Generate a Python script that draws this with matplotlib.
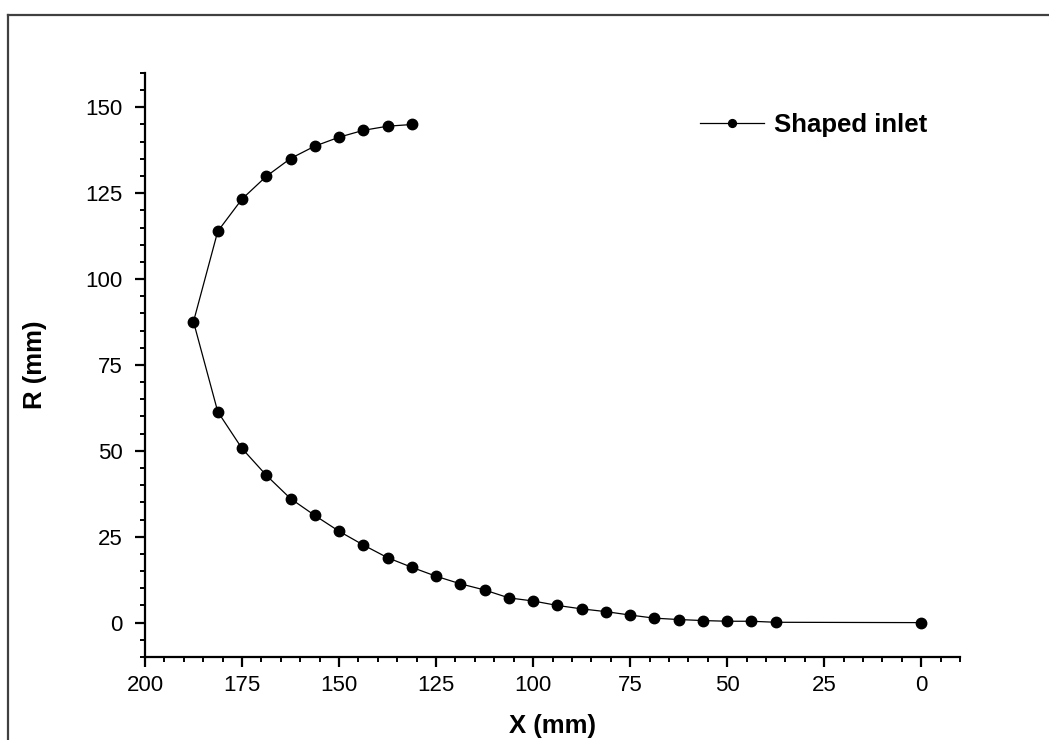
import numpy as np
import matplotlib
matplotlib.use('Agg')
import matplotlib.pyplot as plt
from matplotlib.lines import Line2D
from matplotlib.ticker import MultipleLocator

plt.rcParams['font.family'] = ['Liberation Sans', 'DejaVu Sans']

# upper branch, read from the tip (x=131.25) back to the nose
x_upper = [131.25, 137.5, 143.75, 150, 156.25, 162.5, 168.75, 175, 181.25, 187.5]
r_upper = [145.0, 144.5, 143.3, 141.3, 138.7, 135.1, 129.9, 123.3, 113.9, 87.6]
# lower branch, from the nose down to the axis
x_lower = [181.25, 175, 168.75, 162.5, 156.25, 150, 143.75, 137.5, 131.25, 125,
           118.75, 112.5, 106.25, 100, 93.75, 87.5, 81.25, 75, 68.75, 62.5,
           56.25, 50, 43.75, 37.5, 0]
r_lower = [61.4, 50.7, 42.9, 36.1, 31.2, 26.6, 22.6, 18.9, 16.1, 13.5,
           11.3, 9.5, 7.2, 6.3, 5.0, 4.0, 3.2, 2.2, 1.3, 0.9,
           0.6, 0.4, 0.4, 0.1, 0.0]

x_all = x_upper + x_lower
r_all = r_upper + r_lower

fig = plt.figure(figsize=(10.49, 7.40), dpi=100)
ax = fig.add_axes([0.1382, 0.1122, 0.777, 0.7892])

ax.plot(x_all, r_all, color='black', lw=0.9, marker='o', markersize=7.5,
        markerfacecolor='black', markeredgecolor='black', label='Shaped inlet')

ax.set_xlim(200, -10)
ax.set_ylim(-10, 160)
ax.xaxis.set_major_locator(MultipleLocator(25))
ax.xaxis.set_minor_locator(MultipleLocator(5))
ax.yaxis.set_major_locator(MultipleLocator(25))
ax.yaxis.set_minor_locator(MultipleLocator(5))

ax.spines['top'].set_visible(False)
ax.spines['right'].set_visible(False)
ax.spines['left'].set_linewidth(1.6)
ax.spines['bottom'].set_linewidth(1.6)
ax.tick_params(which='major', direction='out', length=7, width=1.6, labelsize=16)
ax.tick_params(which='minor', direction='out', length=3.5, width=1.4)
ax.tick_params(axis='y', which='major', pad=9)
ax.tick_params(axis='x', which='major', pad=6)

ax.set_xlabel('X (mm)', fontsize=18.5, fontweight='bold')
ax.set_ylabel('R (mm)', fontsize=18.5, fontweight='bold')
# the original page cuts this label at the bottom; keep it just inside
ax.xaxis.set_label_coords(0.5, -0.097)
ax.yaxis.set_label_coords(-0.12, 0.5)

ax.legend(loc='center right', bbox_to_anchor=(0.96, 0.911), frameon=False,
          prop={'size': 18.5, 'weight': 'bold'}, handlelength=2.5,
          handletextpad=0.4, borderpad=0, borderaxespad=0, markerscale=0.75)

# outer frame of the original page (cut at the right and bottom)
fig.add_artist(Line2D([8 / 1049, 1.0], [1 - 15 / 740, 1 - 15 / 740],
                      transform=fig.transFigure, color='#404040', lw=1.6))
fig.add_artist(Line2D([8 / 1049, 8 / 1049], [0.0, 1 - 15 / 740],
                      transform=fig.transFigure, color='#404040', lw=1.6))

fig.savefig('out.png', dpi=100)
